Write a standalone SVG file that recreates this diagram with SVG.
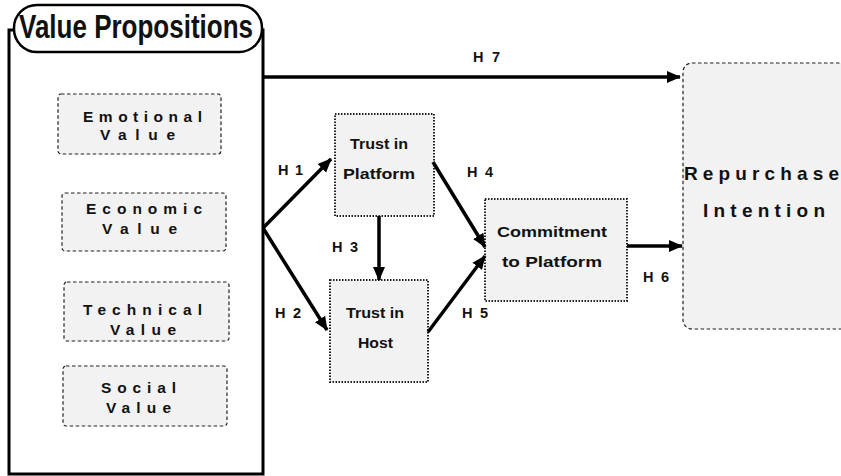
<svg xmlns="http://www.w3.org/2000/svg" width="841" height="476" viewBox="0 0 841 476">
<style>
.lbl{font-family:"Liberation Sans",Arial,sans-serif;font-weight:bold;font-size:14.5px;fill:#111}
.val{font-family:"Liberation Sans",Arial,sans-serif;font-weight:bold;font-size:15.5px;fill:#111}
.node{font-family:"Liberation Sans",Arial,sans-serif;font-weight:bold;font-size:15.5px;fill:#111}
.big{font-family:"Liberation Sans",Arial,sans-serif;font-weight:bold;font-size:19px;fill:#111}
.dash{fill:#f2f2f2;stroke:#222;stroke-width:1.2;stroke-dasharray:3.5 2.5}
.dot{fill:#f2f2f2;stroke:#222;stroke-width:2;stroke-dasharray:1.5 1.5}
.conn{stroke:#000;stroke-width:3.5;fill:none;marker-end:url(#ah)}
</style>
<defs>
<marker id="ah" markerUnits="userSpaceOnUse" markerWidth="14" markerHeight="14" viewBox="0 0 14 14" refX="13" refY="7" orient="auto">
<path d="M0,1 L14,7 L0,13 z" fill="#000"/>
</marker>
</defs>
<rect width="841" height="476" fill="#fff"/>

<g id="value-propositions">
<rect x="9" y="30" width="254" height="444" fill="#fff" stroke="#000" stroke-width="3"/>
<rect x="14" y="5" width="248" height="47" rx="23" fill="#fff" stroke="#000" stroke-width="2.5"/>
<text x="19" y="38" font-family="'Liberation Sans',Arial,sans-serif" font-weight="bold" font-size="33" textLength="234" lengthAdjust="spacingAndGlyphs" fill="#111">Value Propositions</text>
</g>

<g id="emotional">
<rect class="dash" x="58" y="94" width="163" height="60" rx="3"/>
<text class="val" x="83" y="122" textLength="119" lengthAdjust="spacing">Emotional</text>
<text class="val" x="100" y="140" textLength="75" lengthAdjust="spacing">Value</text>
</g>
<g id="economic">
<rect class="dash" x="62" y="193" width="164" height="58" rx="3"/>
<text class="val" x="86" y="214" textLength="116" lengthAdjust="spacing">Economic</text>
<text class="val" x="102" y="234" textLength="75" lengthAdjust="spacing">Value</text>
</g>
<g id="technical">
<rect class="dash" x="64" y="282" width="165" height="59" rx="3"/>
<text class="val" x="83" y="315" textLength="119" lengthAdjust="spacing">Technical</text>
<text class="val" x="110" y="335" textLength="66" lengthAdjust="spacing">Value</text>
</g>
<g id="social">
<rect class="dash" x="63" y="366" width="164" height="60" rx="3"/>
<text class="val" x="101" y="393" textLength="75" lengthAdjust="spacing">Social</text>
<text class="val" x="106" y="413" textLength="65" lengthAdjust="spacing">Value</text>
</g>

<g id="trust-platform">
<rect class="dot" x="335" y="114" width="99" height="102"/>
<text class="node" x="350" y="149" textLength="58" lengthAdjust="spacingAndGlyphs">Trust in</text>
<text class="node" x="343" y="179" textLength="72" lengthAdjust="spacingAndGlyphs">Platform</text>
</g>
<g id="trust-host">
<rect class="dot" x="330" y="280" width="98" height="102"/>
<text class="node" x="346" y="318" textLength="58" lengthAdjust="spacingAndGlyphs">Trust in</text>
<text class="node" x="358" y="348" textLength="35" lengthAdjust="spacingAndGlyphs">Host</text>
</g>
<g id="commitment">
<rect class="dot" x="485" y="199" width="142" height="102"/>
<text class="node" x="497" y="237" textLength="110" lengthAdjust="spacingAndGlyphs">Commitment</text>
<text class="node" x="502" y="267" textLength="100" lengthAdjust="spacingAndGlyphs">to  Platform</text>
</g>
<g id="repurchase">
<rect class="dash" x="683" y="63" width="180" height="266" rx="9"/>
<text class="big" x="684" y="180" textLength="155" lengthAdjust="spacing">Repurchase</text>
<text class="big" x="703" y="217" textLength="122" lengthAdjust="spacing">Intention</text>
</g>

<g id="connectors">
<path class="conn" d="M263,77 L680,77"/>
<path class="conn" d="M263,228 L331,159"/>
<path class="conn" d="M263,228 L327,330"/>
<path class="conn" d="M379,216 L379,280"/>
<path class="conn" d="M433,162 L485,247"/>
<path class="conn" d="M428,332 L485,256"/>
<path class="conn" d="M627,246 L682,246"/>
</g>

<g id="labels">
<text class="lbl" x="473" y="62" textLength="27" lengthAdjust="spacing">H 7</text>
<text class="lbl" x="278" y="175" textLength="25" lengthAdjust="spacing">H 1</text>
<text class="lbl" x="275" y="318" textLength="26" lengthAdjust="spacing">H 2</text>
<text class="lbl" x="332" y="252" textLength="26" lengthAdjust="spacing">H 3</text>
<text class="lbl" x="467" y="177" textLength="26" lengthAdjust="spacing">H 4</text>
<text class="lbl" x="462" y="318" textLength="26" lengthAdjust="spacing">H 5</text>
<text class="lbl" x="643" y="282" textLength="26" lengthAdjust="spacing">H 6</text>
</g>
</svg>
